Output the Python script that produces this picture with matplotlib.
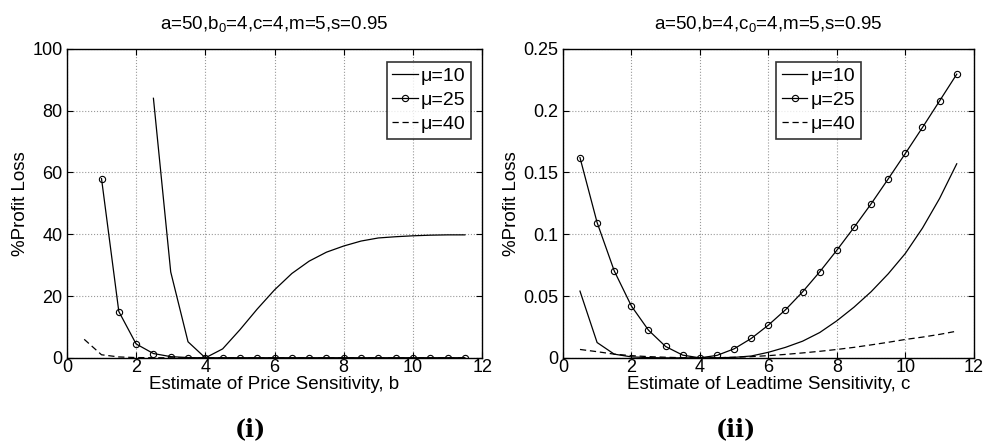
import matplotlib
matplotlib.use("Agg")
import matplotlib.pyplot as plt

plt.rcParams['font.family'] = ['Liberation Sans', 'DejaVu Sans']
plt.rcParams['mathtext.fontset'] = 'custom'
plt.rcParams['mathtext.rm'] = 'Liberation Sans'
plt.rcParams['mathtext.it'] = 'Liberation Sans:italic'

# estimate values, step 0.5
x_all = [0.5, 1.0, 1.5, 2.0, 2.5, 3.0, 3.5, 4.0, 4.5, 5.0, 5.5, 6.0,
         6.5, 7.0, 7.5, 8.0, 8.5, 9.0, 9.5, 10.0, 10.5, 11.0, 11.5]

# panel (i): price sensitivity b
b_mu10_x = x_all[4:]
b_mu10 = [84.0, 27.8, 5.2, 0.0, 2.9, 9.1, 15.8, 22.0, 27.3, 31.3, 34.2,
          36.2, 37.8, 38.8, 39.2, 39.5, 39.7, 39.8, 39.8]
b_mu25_x = x_all[1:]
b_mu25 = [58.0, 15.0, 4.5, 1.4, 0.4, 0.1, 0.0, 0.05, 0.05, 0.05, 0.05,
          0.05, 0.05, 0.05, 0.05, 0.05, 0.05, 0.05, 0.05, 0.05, 0.05, 0.05]
b_mu40_x = x_all
b_mu40 = [6.0, 1.0, 0.3, 0.1, 0.05, 0.02, 0.0, 0.0, 0.0, 0.0, 0.0, 0.0,
          0.0, 0.0, 0.0, 0.0, 0.0, 0.0, 0.0, 0.0, 0.0, 0.0, 0.0]

# panel (ii): leadtime sensitivity c
c_mu10 = [0.054, 0.0124, 0.003, 0.0008, 0.0002, 0.0, 0.0, 0.0, 0.0001,
          0.0004, 0.0015, 0.0045, 0.0085, 0.0135, 0.0205, 0.030, 0.041,
          0.0535, 0.068, 0.0845, 0.105, 0.129, 0.157]
c_mu25 = [0.162, 0.1095, 0.0704, 0.042, 0.0224, 0.0092, 0.0022, 0.0, 0.002,
          0.0073, 0.0157, 0.0265, 0.0389, 0.0534, 0.0696, 0.0871, 0.1055,
          0.1246, 0.1448, 0.1654, 0.1864, 0.2079, 0.2295]
c_mu40 = [0.0068, 0.005, 0.003, 0.0018, 0.001, 0.0005, 0.0001, 0.0, 0.0001,
          0.0005, 0.001, 0.0018, 0.0028, 0.004, 0.0053, 0.0068, 0.0085,
          0.0105, 0.0126, 0.0149, 0.0168, 0.019, 0.0216]

labels = ['\u03bc=10', '\u03bc=25', '\u03bc=40']
titles = ['a=50,b$_0$=4,c=4,m=5,s=0.95', 'a=50,b=4,c$_0$=4,m=5,s=0.95']
xlabels = ['Estimate of Price Sensitivity, b', 'Estimate of Leadtime Sensitivity, c']
panel_tags = ['(i)', '(ii)']

fig = plt.figure(figsize=(9.84, 4.44), dpi=100)
ax1 = fig.add_axes([0.068, 0.194, 0.422, 0.696])
ax2 = fig.add_axes([0.572, 0.194, 0.4177, 0.696])

ax1.plot(b_mu10_x, b_mu10, 'k-', lw=0.9, label=labels[0])
ax1.plot(b_mu25_x, b_mu25, 'k-', lw=0.9, marker='o', ms=4.5, mfc='none',
         mew=0.8, label=labels[1])
ax1.plot(b_mu40_x, b_mu40, 'k', lw=0.9, dashes=(5, 3), label=labels[2])
ax1.set_ylim(0, 100)
ax1.set_yticks([0, 20, 40, 60, 80, 100])

ax2.plot(x_all, c_mu10, 'k-', lw=0.9, label=labels[0])
ax2.plot(x_all, c_mu25, 'k-', lw=0.9, marker='o', ms=4.5, mfc='none',
         mew=0.8, label=labels[1])
ax2.plot(x_all, c_mu40, 'k', lw=0.9, dashes=(5, 3), label=labels[2])
ax2.set_ylim(0, 0.25)
ax2.set_yticks([0, 0.05, 0.1, 0.15, 0.2, 0.25])
ax2.set_yticklabels(['0', '0.05', '0.1', '0.15', '0.2', '0.25'])

legend_pos = [(0.9735, 0.958), (0.725, 0.958)]
for i, ax in enumerate([ax1, ax2]):
    ax.set_xlim(0, 12)
    ax.set_xticks([0, 2, 4, 6, 8, 10, 12])
    ax.grid(True, linestyle=':', color='#999999', lw=0.8)
    ax.tick_params(direction='in', top=True, right=True, labelsize=13,
                   length=4, pad=3)
    ax.tick_params(axis='x', pad=0.5)
    for sp in ax.spines.values():
        sp.set_linewidth(1.0)
    ax.set_title(titles[i], fontsize=13.5, pad=14)
    ax.set_xlabel(xlabels[i], fontsize=13.5, labelpad=0)
    ax.set_ylabel('%Profit Loss', fontsize=13.5, labelpad=2.5)
    leg = ax.legend(loc='upper right', bbox_to_anchor=legend_pos[i],
                    fontsize=14, frameon=True, fancybox=False,
                    handlelength=1.3, handletextpad=0.15, borderpad=0.3,
                    labelspacing=0.32, borderaxespad=0)
    leg.get_frame().set_edgecolor('black')
    leg.get_frame().set_linewidth(1.2)

fig.text(0.254, 0.018, panel_tags[0], fontsize=17, fontweight='bold',
         family='DejaVu Serif', ha='center')
fig.text(0.748, 0.018, panel_tags[1], fontsize=17, fontweight='bold',
         family='DejaVu Serif', ha='center')

fig.savefig('out.png', dpi=100)
